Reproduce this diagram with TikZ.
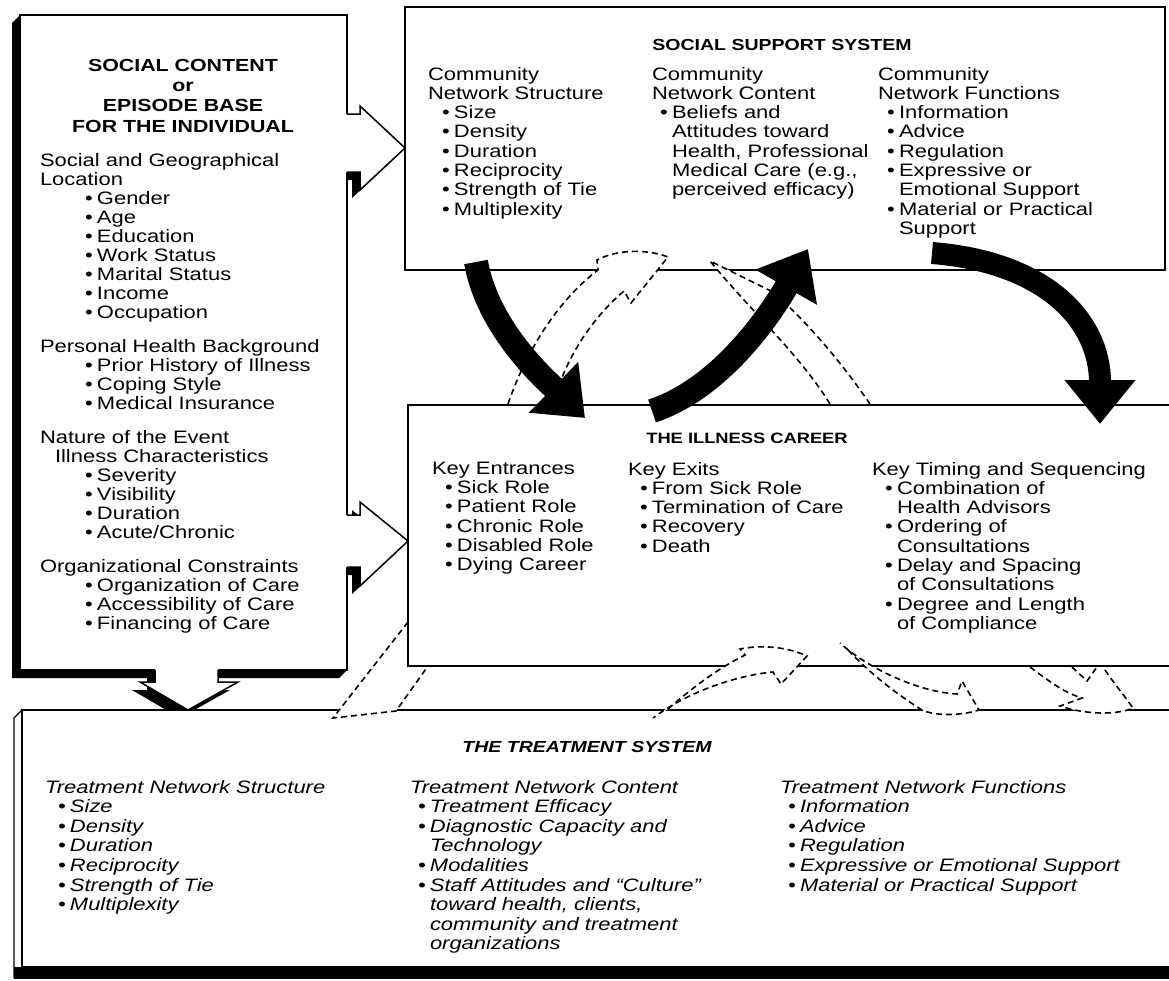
\documentclass[tikz,border=0pt]{standalone}
\usepackage{fontspec}
\setmainfont{Liberation Sans}[FakeStretch=1.22]
\usepackage{tikz}
\usetikzlibrary{arrows.meta}
\newcommand{\bul}[1][0pt]{\hspace*{#1}\makebox[12pt][l]{\textbullet}\ignorespaces}

\begin{document}
\begin{tikzpicture}[x=1pt, y=-1pt, line width=1.5pt,
    every node/.style={inner sep=0pt, outer sep=0pt}]

\tikzstyle{sys_box}=[draw, fill=white, anchor=north west]
\tikzstyle{head_text}=[anchor=base, font=\bfseries\fontsize{16}{19}\selectfont]
\tikzstyle{list_text}=[anchor=north west, align=left, font=\fontsize{18}{19.3}\selectfont]
\tikzstyle{treat_text}=[list_text, font=\itshape\fontsize{18}{19.6}\selectfont]
\tikzstyle{dash_band}=[fill=white, dash pattern=on 6pt off 4pt, line width=1.6pt]
\tikzstyle{big_arrow}=[line width=24pt, -{Triangle[length=44pt, width=68pt]}]

\useasboundingbox (0,0) rectangle (1169,980);

\fill (20,15) -- (12,23) -- (12,678) -- (339,678) -- (347,670) -- cycle;
\begin{scope}[shift={(-8,8)}]
  \fill (340,114) -- (360,114) -- (360,106) -- (405,148) -- (360,190) -- (360,172) -- (340,172) -- cycle;
  \fill (340,515) -- (360,515) -- (360,502) -- (408,541) -- (360,586) -- (360,567) -- (340,567) -- cycle;
  \fill (155,660) -- (218,660) -- (218,682) -- (238,682) -- (188,710) -- (140,682) -- (155,682) -- cycle;
\end{scope}
\draw[line width=1.2pt] (22,710) -- (14,718) -- (14,978);
\fill (14,967) rectangle (1169,979);

\node[sys_box, minimum width=327pt, minimum height=655pt] (content) at (20,15) {};
\node[sys_box, minimum width=760pt, minimum height=263pt] (support) at (405,7) {};
\node[sys_box, minimum width=790pt, minimum height=261pt] (career) at (408,405) {};
\node[sys_box, minimum width=1170pt, minimum height=257pt] (treatment) at (22,710) {};

\fill[white] (340,114) -- (360,114) -- (360,106) -- (support.west |- 0,148) -- (360,190) -- (360,172) -- (340,172) -- cycle;
\draw (content.east |- 0,114) -- (360,114) -- (360,106) -- (support.west |- 0,148) -- (360,190) -- (360,172) -- (content.east |- 0,172);
\fill[white] (340,515) -- (360,515) -- (360,502) -- (career.west |- 0,541) -- (360,586) -- (360,567) -- (340,567) -- cycle;
\draw (content.east |- 0,515) -- (360,515) -- (360,502) -- (career.west |- 0,541) -- (360,586) -- (360,567) -- (content.east |- 0,567);
\fill[white] (155,660) -- (218,660) -- (218,682) -- (238,682) -- (treatment.north -| 188,0) -- (140,682) -- (155,682) -- cycle;
\draw (content.south -| 218,0) -- (218,682) -- (238,682) -- (treatment.north -| 188,0) -- (140,682) -- (155,682) -- (content.south -| 155,0);

\node[head_text, anchor=north, align=center, font=\bfseries\fontsize{17.5}{20.3}\selectfont] (content_title) at (183,59)
  {SOCIAL CONTENT\\or\\EPISODE BASE\\FOR THE INDIVIDUAL};
\node[list_text, font=\fontsize{18}{19}\selectfont] (content_list) at (40,153) {Social and Geographical\\
Location\\
\bul[45pt]Gender\\
\bul[45pt]Age\\
\bul[45pt]Education\\
\bul[45pt]Work Status\\
\bul[45pt]Marital Status\\
\bul[45pt]Income\\
\bul[45pt]Occupation\\[15pt]
Personal Health Background\\
\bul[45pt]Prior History of Illness\\
\bul[45pt]Coping Style\\
\bul[45pt]Medical Insurance\\[15pt]
Nature of the Event\\
\hspace*{15pt}Illness Characteristics\\
\bul[45pt]Severity\\
\bul[45pt]Visibility\\
\bul[45pt]Duration\\
\bul[45pt]Acute/Chronic\\[15pt]
Organizational Constraints\\
\bul[45pt]Organization of Care\\
\bul[45pt]Accessibility of Care\\
\bul[45pt]Financing of Care};

\node[head_text] (support_title) at (782,50) {SOCIAL SUPPORT SYSTEM};
\node[list_text] (support_structure) at (428,67) {Community\\Network Structure\\
\bul[14pt]Size\\
\bul[14pt]Density\\
\bul[14pt]Duration\\
\bul[14pt]Reciprocity\\
\bul[14pt]Strength of Tie\\
\bul[14pt]Multiplexity};
\node[list_text] (support_content) at (652,67) {Community\\Network Content\\
\bul[8pt]Beliefs and\\
\hspace*{20pt}Attitudes toward\\
\hspace*{20pt}Health, Professional\\
\hspace*{20pt}Medical Care (e.g.,\\
\hspace*{20pt}perceived efficacy)};
\node[list_text] (support_functions) at (878,67) {Community\\Network Functions\\
\bul[9pt]Information\\
\bul[9pt]Advice\\
\bul[9pt]Regulation\\
\bul[9pt]Expressive or\\
\hspace*{21pt}Emotional Support\\
\bul[9pt]Material or Practical\\
\hspace*{21pt}Support};

\node[head_text, font=\bfseries\fontsize{15}{19}\selectfont] (career_title) at (747,443) {THE ILLNESS CAREER};
\node[list_text] (career_entrances) at (432,462) {Key Entrances\\
\bul[13pt]Sick Role\\
\bul[13pt]Patient Role\\
\bul[13pt]Chronic Role\\
\bul[13pt]Disabled Role\\
\bul[13pt]Dying Career};
\node[list_text] (career_exits) at (628,462) {Key Exits\\
\bul[12pt]From Sick Role\\
\bul[12pt]Termination of Care\\
\bul[12pt]Recovery\\
\bul[12pt]Death};
\node[list_text] (career_timing) at (872,462) {Key Timing and Sequencing\\
\bul[13pt]Combination of\\
\hspace*{25pt}Health Advisors\\
\bul[13pt]Ordering of\\
\hspace*{25pt}Consultations\\
\bul[13pt]Delay and Spacing\\
\hspace*{25pt}of Consultations\\
\bul[13pt]Degree and Length\\
\hspace*{25pt}of Compliance};

\node[head_text, font=\bfseries\itshape\fontsize{16}{19}\selectfont] (treatment_title) at (587,752) {THE TREATMENT SYSTEM};
\node[treat_text] (treatment_structure) at (45,780) {Treatment Network Structure\\
\bul[13pt]Size\\
\bul[13pt]Density\\
\bul[13pt]Duration\\
\bul[13pt]Reciprocity\\
\bul[13pt]Strength of Tie\\
\bul[13pt]Multiplexity};
\node[treat_text] (treatment_content) at (410,780) {Treatment Network Content\\
\bul[8pt]Treatment Efficacy\\
\bul[8pt]Diagnostic Capacity and\\
\hspace*{20pt}Technology\\
\bul[8pt]Modalities\\
\bul[8pt]Staff Attitudes and ``Culture''\\
\hspace*{20pt}toward health, clients,\\
\hspace*{20pt}community and treatment\\
\hspace*{20pt}organizations};
\node[treat_text] (treatment_functions) at (780,780) {Treatment Network Functions\\
\bul[8pt]Information\\
\bul[8pt]Advice\\
\bul[8pt]Regulation\\
\bul[8pt]Expressive or Emotional Support\\
\bul[8pt]Material or Practical Support};

\draw[dash_band] (508,404) .. controls (530,340) and (565,295) .. (598,270) -- (597,260)
  .. controls (620,248) and (650,250) .. (668,257) -- (631,303) -- (624,291)
  .. controls (590,320) and (565,360) .. (553,404);
\draw[dash_band] (830,404) .. controls (800,355) and (750,310) .. (710,261) -- (773,292)
  .. controls (805,320) and (840,360) .. (870,404);
\fill[white] (352,690) -- (333,718) -- (396,711) -- (412,690) -- cycle;
\draw[dash_band, fill=none] (career.west |- 0,622) -- (333,718) -- (396,711) -- (career.south -| 428,0);
\draw[dash_band] (668,709) .. controls (690,690) and (715,670) .. (745,655) -- (740,649)
  .. controls (760,645) and (785,646) .. (807,656) -- (781,684) -- (773,672)
  .. controls (740,675) and (690,690) .. (653,718);
\draw[dash_band] (848,650) .. controls (865,668) and (890,690) .. (922,710)
  .. controls (935,716) and (960,716) .. (979,710) -- (962,681) -- (957,694)
  .. controls (920,692) and (870,670) .. (840,643);
\draw[dash_band] (1030,667) .. controls (1050,682) and (1065,693) .. (1082,698) -- (1060,706)
  .. controls (1090,716) and (1120,714) .. (1133,708) .. controls (1120,690) and (1110,678) .. (1103,667);
\draw[dash_band, fill=none] (1072,667) -- (1087,681) -- (1097,667);

\coordinate (a_tail) at (476,262);
\coordinate (a_tip) at (585,418);
\coordinate (b_tail) at (652,411);
\coordinate (b_tip) at (808,249);
\coordinate (c_tail) at (932,253);
\coordinate (c_tip) at (1100,424);
\draw[big_arrow] (a_tail) .. controls (488,330) and (548,382) .. (a_tip);
\draw[big_arrow] (b_tail) .. controls (722,388) and (772,312) .. (b_tip);
\draw[big_arrow, line width=22pt] (c_tail) .. controls (1045,262) and (1100,320) .. (c_tip);
\end{tikzpicture}
\end{document}
